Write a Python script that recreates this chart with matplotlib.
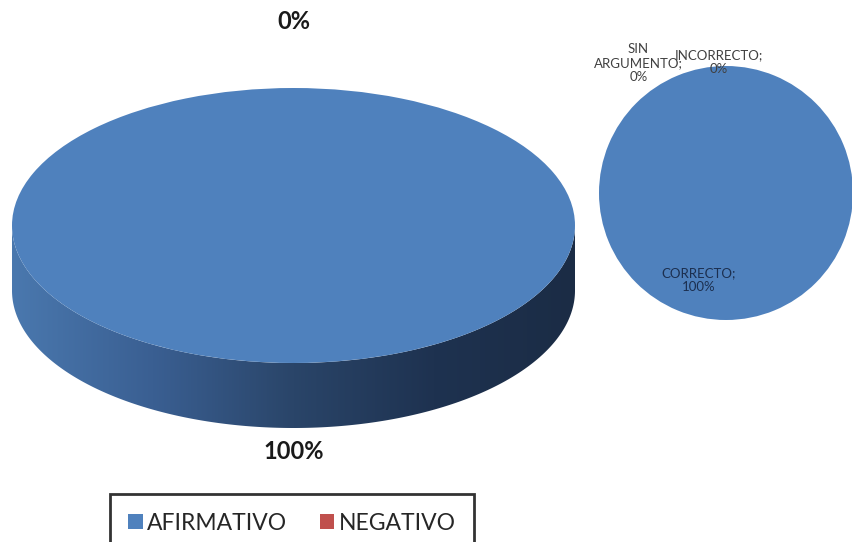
import matplotlib

matplotlib.use("Agg")

import matplotlib.pyplot as plt
import numpy as np
from matplotlib.colors import LinearSegmentedColormap
from matplotlib.patches import Polygon

plt.rcParams["font.family"] = ["Lato", "DejaVu Sans"]

# main pie data
main_labels = ["AFIRMATIVO", "NEGATIVO"]
main_values = [100, 0]
main_colors = ["#4f81bd", "#c0504d"]

# detail pie data
sub_labels = ["CORRECTO", "INCORRECTO", "SIN ARGUMENTO"]
sub_values = [100, 0, 0]
sub_colors = ["#4f81bd", "#4f81bd", "#4f81bd"]

W, H = 853, 542
fig = plt.figure(figsize=(W / 100, H / 100), dpi=100)

# --- main 3D-looking pie ---------------------------------------------------
depth = 65 / 137.5
x0, x1, ytop, ybot = 12, 575, 88, 428
ax = fig.add_axes([x0 / W, 1 - ybot / H, (x1 - x0) / W, (ybot - ytop) / H])

fracs = np.array(main_values, dtype=float) / sum(main_values)
starts = 90 - 360 * np.concatenate([[0], np.cumsum(fracs)[:-1]])

side_cmap = LinearSegmentedColormap.from_list(
    "side", ["#4a78ae", "#3a5f92", "#2a4569", "#1e3250", "#1b2c45"])

# sides of the slices that face the viewer (front half of the ellipse)
for start, frac in zip(starts, fracs):
    if frac == 0:
        continue
    tt = np.linspace(np.pi, 2 * np.pi, 400)
    span = (start - np.degrees(tt)) % 360
    t = tt[(span <= 360 * frac + 1e-9) | (frac >= 1)]
    if len(t) < 2:
        continue
    top = np.column_stack([np.cos(t), np.sin(t)])
    bot = np.column_stack([np.cos(t[::-1]), np.sin(t[::-1]) - depth])
    poly = Polygon(np.vstack([top, bot]), closed=True, facecolor="none", edgecolor="none")
    ax.add_patch(poly)
    grad = np.linspace(0, 1, 256).reshape(1, -1)
    im = ax.imshow(grad, cmap=side_cmap, aspect="auto", extent=[-1, 1, -1 - depth, 0.05], zorder=1)
    im.set_clip_path(poly)

wedges, _ = ax.pie(main_values, colors=main_colors, startangle=90, counterclock=False,
                   radius=1, center=(0, 0), wedgeprops=dict(linewidth=0))
for w in wedges:
    w.set_zorder(2)
ax.set_aspect("auto")
ax.set_xlim(-1, 1)
ax.set_ylim(-1 - depth, 1)
ax.axis("off")

for start, frac in zip(starts, fracs):
    mid = np.radians(start - 180 * frac)
    if np.sin(mid) >= 0:
        ly = 1.48
    else:
        ly = -1.17 - depth
    ax.text(np.cos(mid) * 1.0, ly, f"{frac * 100:.0f}%", ha="center", va="center",
            fontsize=17, fontweight="bold", color="#1a1a1a", clip_on=False)

# --- detail pie -------------------------------------------------------------
cx, cy, r = 726, 193, 127
ax2 = fig.add_axes([(cx - r) / W, 1 - (cy + r) / H, 2 * r / W, 2 * r / H])
ax2.pie(sub_values, colors=sub_colors, startangle=90, counterclock=False,
        wedgeprops=dict(linewidth=0))
ax2.set_xlim(-1, 1)
ax2.set_ylim(-1, 1)
ax2.axis("off")

sub_pos = [(-0.213, -0.685), (-0.06, 1.031), (-0.69, 1.024)]
sub_text = ["CORRECTO;\n{}%", "INCORRECTO;\n{}%", "SIN\nARGUMENTO;\n{}%"]
sub_tcol = ["#1c2f4f", "#404040", "#404040"]
for (px, py), txt, col, v in zip(sub_pos, sub_text, sub_tcol, sub_values):
    ax2.text(px, py, txt.format(v), ha="center", va="center", fontsize=9.5,
             color=col, linespacing=1.2, clip_on=False)

# --- legend -----------------------------------------------------------------
leg = fig.legend(wedges, main_labels, loc="center", bbox_to_anchor=(292 / W, 1 - 523 / H),
                 ncol=2, fontsize=16.5, frameon=True, fancybox=False, edgecolor="black",
                 handlelength=0.65, handleheight=0.65, handletextpad=0.2, columnspacing=1.4,
                 borderpad=0.8, labelcolor="#262626")
leg.get_frame().set_linewidth(2)

fig.savefig("out.png", dpi=100, facecolor="white")
